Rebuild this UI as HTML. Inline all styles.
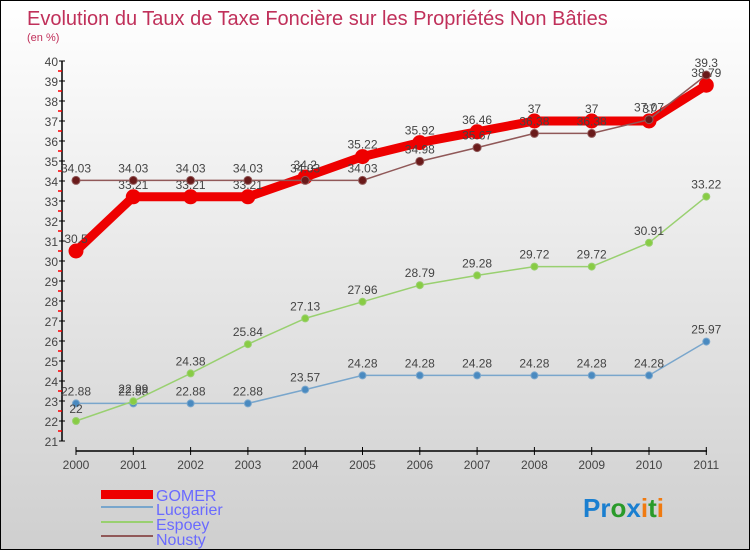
<!DOCTYPE html>
<html><head><meta charset="utf-8"><style>
body{margin:0}
#c{position:relative;width:748px;height:548px;border:1px solid #000;background:linear-gradient(#ffffff,#cfcfcf);font-family:"Liberation Sans",sans-serif;overflow:hidden}
svg text{font-family:"Liberation Sans",sans-serif}
</style></head><body>
<div id="c">
<svg id="s" width="748" height="548">
<text x="26" y="24" font-size="20" fill="#c0305a">Evolution du Taux de Taxe Foncière sur les Propriétés Non Bâties</text>
<text x="26" y="40" font-size="11" fill="#c0305a">(en %)</text>
<g id="axes"></g><g id="series"></g>
<g>
<rect x="100" y="489" width="52" height="9" fill="#e00"/>
<text x="155" y="500" font-size="16" fill="#6a6aff">GOMER</text>
<rect x="100" y="505" width="52" height="2" fill="#79a6cc"/>
<text x="155" y="514" font-size="16" fill="#6a6aff">Lucgarier</text>
<rect x="100" y="520" width="52" height="2" fill="#99d070"/>
<text x="155" y="529" font-size="16" fill="#6a6aff">Espoey</text>
<rect x="100" y="534" width="52" height="2" fill="#905858"/>
<text x="155" y="544" font-size="16" fill="#6a6aff">Nousty</text>
</g>
<text x="582" y="516" font-size="26" font-weight="bold"><tspan fill="#1a7fd0">Pr</tspan><tspan fill="#2a9a2a">o</tspan><tspan fill="#1a7fd0">x</tspan><tspan fill="#f07a10">i</tspan><tspan fill="#2a9a2a">t</tspan><tspan fill="#f07a10">i</tspan></text>
</svg></div>
<script>
const years=["2000","2001","2002","2003","2004","2005","2006","2007","2008","2009","2010","2011"];
const gomer=[30.5,33.21,33.21,33.21,34.2,35.22,35.92,36.46,37,37,37,38.79];
const lucgarier=[22.88,22.88,22.88,22.88,23.57,24.28,24.28,24.28,24.28,24.28,24.28,25.97];
const espoey=[22,22.99,24.38,25.84,27.13,27.96,28.79,29.28,29.72,29.72,30.91,33.22];
const nousty=[34.03,34.03,34.03,34.03,34.03,34.03,34.98,35.67,36.38,36.38,37.07,39.3];
const yTicks=[21,22,23,24,25,26,27,28,29,30,31,32,33,34,35,36,37,38,39,40];
const NS="http://www.w3.org/2000/svg";
const X=i=>75+i*57.3, Y=v=>60+(40-v)*20;
function mk(t,a,p){const e=document.createElementNS(NS,t);for(const k in a)e.setAttribute(k,a[k]);p.appendChild(e);return e;}
const ax=document.getElementById('axes');
mk('line',{x1:61,y1:60,x2:61,y2:440,stroke:'#000','stroke-width':1.5},ax);
mk('line',{x1:75,y1:450,x2:706,y2:450,stroke:'#000','stroke-width':1.5},ax);
yTicks.forEach(v=>{
 const l=mk('line',{x1:58,y1:Y(v),x2:64,y2:Y(v),stroke:'#000'},ax);
 
 if(v<40){mk('line',{x1:57,y1:Y(v+0.5),x2:61,y2:Y(v+0.5),stroke:'#f00','stroke-width':1.5},ax);}
 const t=mk('text',{x:57,y:Y(v)+5,'font-size':12,fill:'#444','text-anchor':'end'},ax);t.textContent=v;
 
});
years.forEach((y,i)=>{
 mk('line',{x1:X(i),y1:446,x2:X(i),y2:454,stroke:'#000'},ax);
 const t=mk('text',{x:X(i),y:468,'font-size':12,fill:'#444','text-anchor':'middle'},ax);t.textContent=y;
 
});
const sg=document.getElementById('series');
function series(name,vals,col,w,r,dot){
 const g=mk('g',{},sg);
 
 
 mk('polyline',{points:vals.map((v,i)=>X(i)+','+Y(v)).join(' '),fill:'none',stroke:col,'stroke-width':w,'stroke-linejoin':'round'},g);
 vals.forEach((v,i)=>{
  const c=mk('circle',{cx:X(i),cy:Y(v),r:r,fill:dot,stroke:col,'stroke-width':1},g);
  
  
  const t=mk('text',{x:X(i),y:Y(v)-8,'font-size':12,fill:'#444','text-anchor':'middle'},g);
  t.textContent=String(v);
  
  
 });
}
series('lucgarier',lucgarier,'#79a6cc',1.5,3.5,'#4a8ac0');
series('espoey',espoey,'#99d070',1.5,3.5,'#88cc44');
series('gomer',gomer,'#ee0000',9,7,'#ee0000');
series('nousty',nousty,'#905858',1.5,4,'#6a1a1a');
</script>
</body></html>
